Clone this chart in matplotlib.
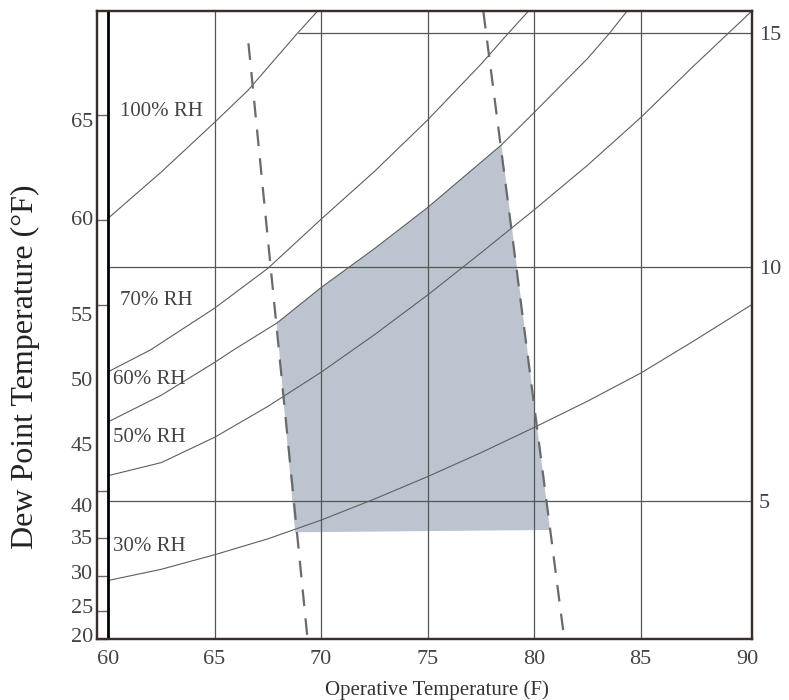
import numpy as np
import matplotlib
matplotlib.use("Agg")
import matplotlib.pyplot as plt

# ---- data (x = operative temp F, y = humidity ratio g/kg)
rh100_t = [60, 62.5, 65, 66.58, 68.9, 69.8]
rh100_w = [11.04, 12.03, 13.09, 13.78, 15.0, 15.45]
rh70_t = [60, 62, 65, 67.5, 70, 72.5, 75, 77.5, 78.8, 79.7]
rh70_w = [7.76, 8.23, 9.12, 9.97, 11.02, 12.04, 13.14, 14.33, 15.0, 15.45]
rh60_t = [60, 62.5, 65, 65.9, 67.92, 70, 72.5, 75, 78.47, 80, 82.5, 83.55, 84.33]
rh60_w = [6.69, 7.26, 7.96, 8.23, 8.80, 9.56, 10.39, 11.27, 12.61, 13.3, 14.45, 15.0, 15.45]
rh50_t = [60, 62.5, 65, 67.5, 70, 72.5, 75, 77.5, 80, 82.5, 85, 87.5, 90.2]
rh50_w = [5.54, 5.82, 6.36, 7.02, 7.75, 8.55, 9.40, 10.3, 11.22, 12.17, 13.19, 14.3, 15.46]
rh30_t = [60, 62.5, 65, 67.5, 70, 72.5, 75, 77.5, 80, 82.5, 85, 87.5, 90.2]
rh30_w = [3.30, 3.54, 3.85, 4.19, 4.59, 5.04, 5.52, 6.03, 6.57, 7.13, 7.73, 8.42, 9.19]

# comfort zone polygon (top edge runs along the 60% RH curve)
zone_t = [68.78, 67.92, 70, 72.5, 75, 78.47, 80.75]
zone_w = [4.33, 8.80, 9.56, 10.39, 11.27, 12.61, 4.38]

# dashed boundary lines
dash_left_t = [66.59, 69.36]
dash_left_w = [14.78, 2.07]
dash_right_t = [77.62, 81.42]
dash_right_w = [15.45, 2.04]

# grid
vgrid_t = [65, 70, 75, 80, 85]
hgrid_w = [5, 10, 15]
hgrid_start = [60, 60, 68.9]

x_ticks = [60, 65, 70, 75, 80, 85, 90]
right_ticks = [5, 10, 15]

# dew point axis (left): label positions and tick mark positions in g/kg
dewpoint_labels = ["65", "60", "55", "50", "45", "40", "35", "30", "25", "20"]
dewpoint_label_w = [13.14, 11.05, 9.0, 7.6, 6.22, 4.91, 4.23, 3.48, 2.76, 2.14]
dewpoint_tick_w = [13.25, 11.0, 9.18, 7.6, 6.22, 5.21, 4.21, 3.40, 2.65, 2.05]

plt.rcParams['font.family'] = ['Liberation Serif', 'DejaVu Serif']

fig = plt.figure(figsize=(7.89, 7.0), dpi=100)
ax = fig.add_axes([97/789, 61/700, 655/789, 628/700])
ax.set_xlim(59.48, 90.23)
ax.set_ylim(2.05, 15.47)

frame_c = '#3a2e2b'
grid_c = '#555555'
curve_c = '#5e5e5e'

# shaded zone
ax.fill(zone_t, zone_w, color='#bcc5cf', lw=0, zorder=1)

# grid
ax.vlines(vgrid_t, 2.05, 15.47, color=grid_c, lw=0.9, zorder=2)
ax.hlines(hgrid_w, hgrid_start, 90.23, color=grid_c, lw=0.9, zorder=2)
ax.axvline(60, color='black', lw=2.0, zorder=3)

# RH curves
for t, w in [(rh100_t, rh100_w), (rh70_t, rh70_w), (rh60_t, rh60_w),
             (rh50_t, rh50_w), (rh30_t, rh30_w)]:
    ax.plot(t, w, color=curve_c, lw=0.8, zorder=2)

# dashed boundaries
for t, w in [(dash_left_t, dash_left_w), (dash_right_t, dash_right_w)]:
    ax.plot(t, w, color='#6a6a6a', lw=1.6, ls=(0, (7.5, 5.5)), zorder=4)

# RH labels
lab_c = '#444444'
ax.text(60.56, 13.33, "100% RH", fontsize=15, color=lab_c, va='center')
ax.text(60.56, 9.29, "70% RH", fontsize=15, color=lab_c, va='center')
ax.text(60.23, 7.59, "60% RH", fontsize=15, color=lab_c, va='center')
ax.text(60.23, 6.35, "50% RH", fontsize=15, color=lab_c, va='center')
ax.text(60.23, 4.02, "30% RH", fontsize=15, color=lab_c, va='center')

# axes styling
for s in ax.spines.values():
    s.set_color(frame_c)
    s.set_linewidth(1.6)

ax.set_xticks(x_ticks)
ax.set_xticklabels([str(v) for v in x_ticks])
ax.tick_params(axis='x', length=0, pad=8, labelsize=16, labelcolor='#444444')

ax.set_yticks(dewpoint_label_w)
ax.set_yticklabels(dewpoint_labels)
ax.tick_params(axis='y', which='major', length=0, pad=3, labelsize=16,
               labelcolor='#444444')
ax.set_yticks(dewpoint_tick_w, minor=True)
ax.tick_params(axis='y', which='minor', direction='in', length=8, width=1,
               color='#666666')

ax2 = ax.twinx()
ax2.set_ylim(ax.get_ylim())
ax2.set_yticks(right_ticks)
ax2.set_yticklabels([str(v) for v in right_ticks])
ax2.tick_params(axis='y', length=0, pad=5, labelsize=16, labelcolor='#444444')
for s in ax2.spines.values():
    s.set_color(frame_c)
    s.set_linewidth(1.6)

fig.text(25/789, 1 - 367/700, "Dew Point Temperature (°F)", rotation=90,
         fontsize=23, color='#222222', ha='center', va='center')
fig.text(437/789, 1 - 690/700, "Operative Temperature (F)",
         fontsize=15, color='#333333', ha='center', va='center')

fig.savefig("out.png", dpi=100)
